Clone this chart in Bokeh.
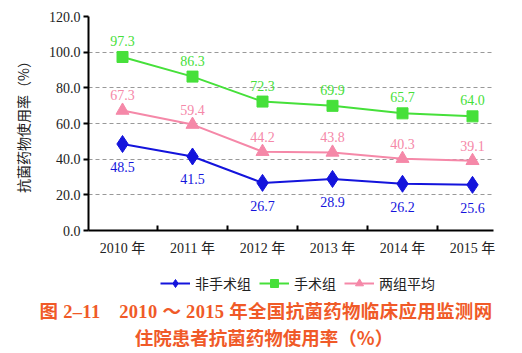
from bokeh.plotting import figure
from bokeh.layouts import column
from bokeh.models import (ColumnDataSource, FixedTicker, Legend, LegendItem, Div,
                          CustomJSTickFormatter)
from bokeh.core.properties import value
from bokeh.embed import file_html
from bokeh.resources import INLINE

years = ["2010 年", "2011 年", "2012 年", "2013 年", "2014 年", "2015 年"]
non_surgical = [48.5, 41.5, 26.7, 28.9, 26.2, 25.6]
surgical = [97.3, 86.3, 72.3, 69.9, 65.7, 64.0]
average = [67.3, 59.4, 44.2, 43.8, 40.3, 39.1]
series_names = ["非手术组", "手术组", "两组平均"]
y_ticks = [0, 20, 40, 60, 80, 100, 120]
caption = ["图 2–11　2010 ～ 2015 年全国抗菌药物临床应用监测网",
           "住院患者抗菌药物使用率（%）"]

BLUE = "#1414dc"
GREEN = "#46e03a"
PINK = "#f588a8"
CAP = "#f05a28"
SERIF = "Liberation Serif, Noto Sans CJK SC"
CJK = "Noto Sans CJK SC"

xs = list(range(len(years)))

p = figure(width=522, height=260, output_backend="svg", toolbar_location=None,
           x_range=(-0.486, 5.3), y_range=(0, 120),
           min_border_left=88, min_border_right=29, min_border_top=16,
           min_border_bottom=30)
p.outline_line_color = None
p.background_fill_color = "white"
p.border_fill_color = "white"

# axes
p.xaxis.ticker = FixedTicker(ticks=xs, minor_ticks=[i + 0.5 for i in xs[:-1]])
p.xaxis.major_label_overrides = {i: years[i] for i in xs}
p.xaxis.major_tick_out = 0
p.xaxis.major_tick_in = 0
p.xaxis.minor_tick_in = 5
p.xaxis.minor_tick_out = 0
p.xaxis.minor_tick_line_width = 2
p.xaxis.minor_tick_line_color = "black"
p.xaxis.axis_line_width = 2
p.xaxis.axis_line_color = "black"
p.xaxis.major_label_text_font = SERIF
p.xaxis.major_label_text_font_size = "14px"
p.xaxis.major_label_text_color = "#222222"
p.xaxis.major_label_standoff = 10

p.yaxis.ticker = FixedTicker(ticks=y_ticks, minor_ticks=[])
p.yaxis.formatter = CustomJSTickFormatter(code="return tick.toFixed(1);")
p.yaxis.major_tick_out = 5
p.yaxis.major_tick_in = 0
p.yaxis.major_tick_line_width = 2
p.yaxis.axis_line_width = 2
p.yaxis.axis_line_color = "black"
p.yaxis.major_label_text_font = SERIF
p.yaxis.major_label_text_font_size = "14px"
p.yaxis.major_label_text_color = "#222222"
p.yaxis.major_label_standoff = 3
p.yaxis.axis_label = "抗菌药物使用率（%）"
p.yaxis.axis_label_text_font = CJK
p.yaxis.axis_label_text_font_size = "14px"
p.yaxis.axis_label_text_font_style = "normal"
p.yaxis.axis_label_text_color = "#222222"
p.yaxis.axis_label_standoff = 13

p.xgrid.grid_line_color = None
p.ygrid.grid_line_color = "#999999"
p.ygrid.grid_line_dash = "4 3"
p.ygrid.grid_line_width = 1

src = ColumnDataSource(dict(x=xs, ns=non_surgical, s=surgical, a=average,
                            ns_t=[f"{v:.1f}" for v in non_surgical],
                            s_t=[f"{v:.1f}" for v in surgical],
                            a_t=[f"{v:.1f}" for v in average]))

styles = [(BLUE, "diamond", 17), (GREEN, "square", 11), (PINK, "triangle", 13)]
cols = ["ns", "s", "a"]
for col, (color, marker, size) in zip(cols, styles):
    p.line("x", col, source=src, color=color, line_width=2)
    p.scatter("x", col, source=src, marker=marker, size=size, color=color)

common = dict(source=src, text_font=value("Liberation Serif"), text_font_size="14px",
              text_align="center", text_baseline="middle")
p.text("x", "ns", text="ns_t", text_color=BLUE, y_offset=23, **common)
p.text("x", "s", text="s_t", text_color=GREEN, y_offset=-16, **common)
p.text("x", "a", text="a_t", text_color=PINK, y_offset=-15, **common)

# legend strip: own small figure whose range shows none of the series data,
# so only the legend samples are visible
lf = figure(width=522, height=40, output_backend="svg", toolbar_location=None,
            x_range=(-0.486, 5.3), y_range=(-20, -10),
            x_axis_type=None, y_axis_type=None,
            min_border_left=88, min_border_right=29, min_border_top=0,
            min_border_bottom=0)
lf.grid.grid_line_color = None
lf.outline_line_color = None
lf.background_fill_color = "white"
items = []
for name, col, (color, marker, size) in zip(series_names, cols, styles):
    rl = lf.line("x", col, source=src, color=color, line_width=2)
    rm = lf.scatter("x", col, source=src, marker=marker, size=size * 0.8, color=color)
    items.append(LegendItem(label=name, renderers=[rl, rm]))
legend = Legend(items=items, orientation="horizontal", location=(72, 7),
                label_text_font=CJK, label_text_font_size="14px",
                label_text_color="#222222", glyph_width=30, glyph_height=20,
                label_height=20, label_standoff=5, spacing=8, padding=0, margin=0,
                border_line_color=None, background_fill_alpha=0)
lf.add_layout(legend, "center")

cap_html = (
    '<div style="width:522px;text-align:center;color:%s;font-weight:bold;'
    'font-size:18.5px;line-height:25px;font-family:\'Liberation Serif\',\'Noto Sans CJK SC\';">'
    '<div style="position:relative;left:5px;white-space:nowrap;letter-spacing:0.3px;">%s</div>'
    '<div style="position:relative;left:3px;font-family:\'Noto Sans CJK SC\';">%s</div>'
    '</div>' % (CAP, caption[0], caption[1])
)
c = Div(text=cap_html, width=522, height=53, margin=0)

layout = column(p, lf, c, spacing=0)
open("out.html", "w").write(file_html(layout, INLINE))
